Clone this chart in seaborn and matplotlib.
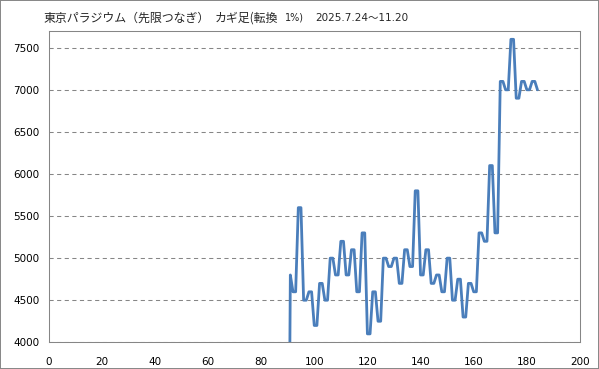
import matplotlib
matplotlib.use("Agg")
import matplotlib.pyplot as plt
import seaborn as sns
from matplotlib.patches import Rectangle

# kagi line points (index, price); bars before 91 are zero, below the axis
bar_no = list(range(90, 185))
price = [
    0, 4800, 4600, 4600, 5600, 5600, 4500, 4500, 4600, 4600,
    4200, 4200, 4700, 4700, 4500, 4500, 5000, 5000, 4800, 4800,
    5200, 5200, 4800, 4800, 5100, 5100, 4600, 4600, 5300, 5300,
    4100, 4100, 4600, 4600, 4250, 4250, 5000, 5000, 4900, 4900,
    5000, 5000, 4700, 4700, 5100, 5100, 4900, 4900, 5800, 5800,
    4800, 4800, 5100, 5100, 4700, 4700, 4800, 4800, 4600, 4600,
    5000, 5000, 4500, 4500, 4750, 4750, 4300, 4300, 4700, 4700,
    4600, 4600, 5300, 5300, 5200, 5200, 6100, 6100, 5300, 5300,
    7100, 7100, 7000, 7000, 7600, 7600, 6900, 6900, 7100, 7100,
    7000, 7000, 7100, 7100, 7000,
]
x_ticks = list(range(0, 201, 20))
y_ticks = list(range(4000, 7501, 500))

title_name = "東京パラジウム（先限つなぎ）"
title_kind = "カギ足(転換"
title_pct = "1%)"
title_period = "2025.7.24～11.20"

sns.set_style("white")
plt.rcParams['font.family'] = ['DejaVu Sans', 'Noto Sans CJK JP']

W, H = 599, 369
fig = plt.figure(figsize=(W / 100, H / 100), dpi=100)
ax = fig.add_axes([48.5 / W, (H - 342.3) / H, (580 - 48.5) / W, 311.4 / H])

sns.lineplot(x=bar_no, y=price, ax=ax, color='#4A7EBB', lw=2.0)

ax.set_xlim(0, 200)
ax.set_ylim(4000, 7700)
ax.set_xticks(x_ticks)
ax.set_yticks(y_ticks)
ax.set_xlabel('')
ax.set_ylabel('')

grey = '#868686'
ax.set_axisbelow(True)
ax.grid(axis='y', color=grey, lw=0.75, linestyle=(0, (4, 3.3)))
for s in ax.spines.values():
    s.set_color(grey)
    s.set_linewidth(0.75)
ax.tick_params(direction='out', length=4, width=0.75, color=grey,
               labelsize=7.5, labelcolor='black')
ax.tick_params(axis='x', pad=6.5)
ax.tick_params(axis='y', pad=2.5)

# titles
ty = 1 - 18 / H
jp = ['Noto Sans CJK JP', 'DejaVu Sans']
fig.text(43 / W, ty, title_name, fontsize=8.6, va='center', family=jp)
fig.text(215 / W, ty, title_kind, fontsize=8.6, va='center', family=jp)
fig.text(285 / W, ty, title_pct, fontsize=7, va='center')
fig.text(315 / W, ty, title_period, fontsize=7.5, va='center',
         family=['DejaVu Sans', 'Noto Sans CJK JP'])

# chart border
fig.patches.append(Rectangle((0, 0), 1, 1, transform=fig.transFigure,
                             fill=False, edgecolor=grey, lw=1.4))

fig.savefig('out.png', dpi=100)
